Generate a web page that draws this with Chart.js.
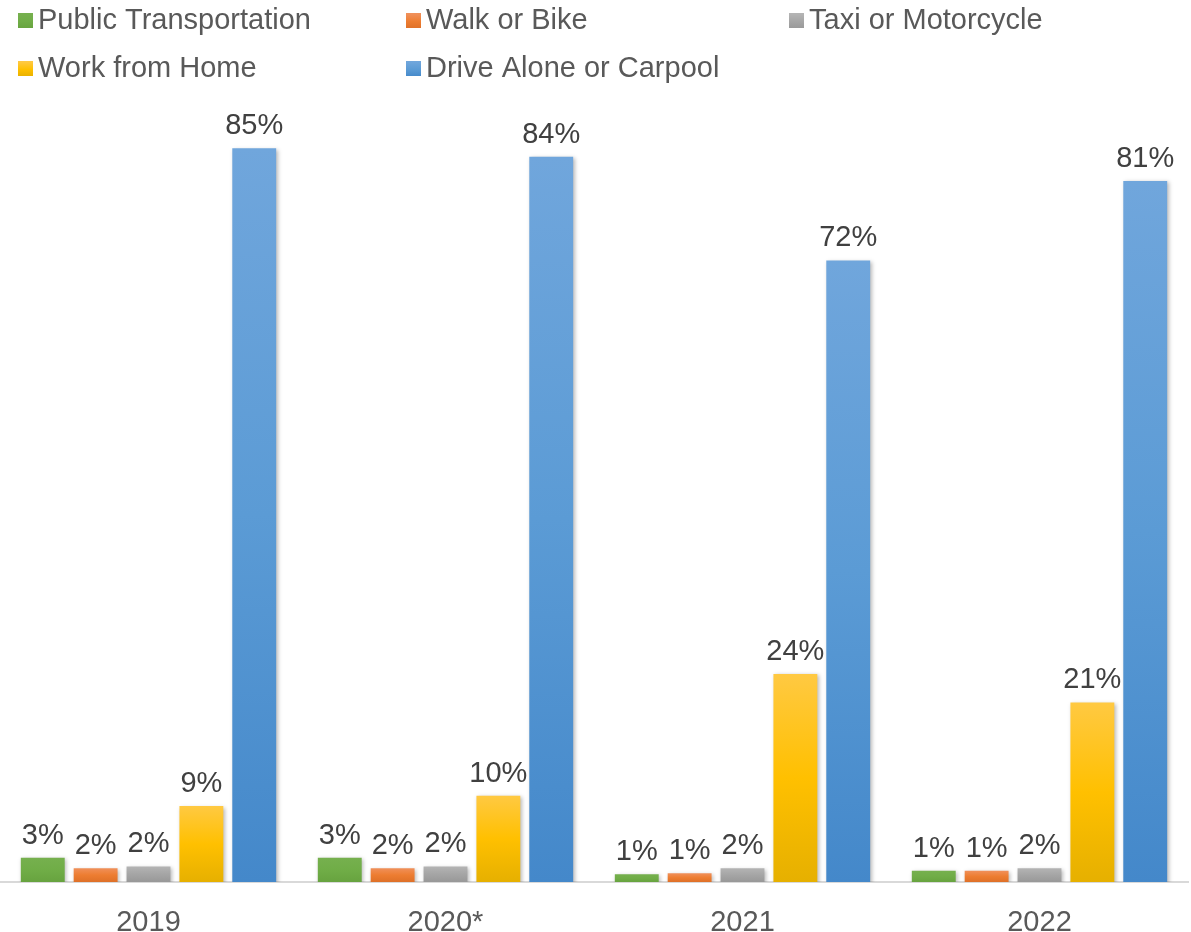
<!DOCTYPE html>
<html>
<head>
<meta charset="utf-8">
<script src="https://cdn.jsdelivr.net/npm/chart.js@4/dist/chart.umd.min.js"></script>
<style>
    html, body { margin: 0; padding: 0; background: #fff; }
    #wrap { width: 1191px; height: 932px; position: relative; }
</style>
</head>
<body>
<div id="wrap"><canvas id="modes"></canvas></div>
<script>
const years = ['2019', '2020*', '2021', '2022'];
const publicTransport = [2.8, 2.8, 0.9, 1.3];
const walkBike = [1.6, 1.6, 1.0, 1.3];
const taxiMoto = [1.8, 1.8, 1.6, 1.6];
const workHome = [8.8, 10.0, 24.1, 20.8];
const driveCarpool = [85, 84, 72, 81.2];

const FONT = "'Liberation Sans', Arial, sans-serif";
const FSIZE = 29;

// top colour, bottom colour of each bar (office style gradient)
function barFill(top, mid, bottom) {
    return function (c) {
        const chart = c.chart;
        const y = chart.scales && chart.scales.y;
        if (!y || c.parsed === undefined || !chart.chartArea) return mid;
        const y0 = y.getPixelForValue(0);
        const y1 = y.getPixelForValue(c.parsed.y);
        if (!isFinite(y0) || !isFinite(y1) || y0 === y1) return mid;
        const g = chart.ctx.createLinearGradient(0, y1, 0, y0);
        g.addColorStop(0, top);
        g.addColorStop(0.5, mid);
        g.addColorStop(1, bottom);
        return g;
    };
}

const series = [
    { label: 'Public Transportation', data: publicTransport, c: ['#76B04E', '#70AD47', '#67A33F'], col: 0, row: 0 },
    { label: 'Walk or Bike', data: walkBike, c: ['#F0905A', '#ED7D31', '#DE7028'], col: 1, row: 0 },
    { label: 'Taxi or Motorcycle', data: taxiMoto, c: ['#B4B4B4', '#A5A5A5', '#989898'], col: 2, row: 0 },
    { label: 'Work from Home', data: workHome, c: ['#FFC942', '#FFC000', '#E6B000'], col: 0, row: 1 },
    { label: 'Drive Alone or Carpool', data: driveCarpool, c: ['#70A6DC', '#5B9BD5', '#4488CA'], col: 1, row: 1 }
];

const legendCols = [18, 406, 789];
const legendRows = [29, 77];

const legendPlugin = {
    id: 'gridLegend',
    afterDraw(chart) {
        const ctx = chart.ctx;
        ctx.save();
        ctx.font = FSIZE + 'px ' + FONT;
        ctx.textBaseline = 'alphabetic';
        ctx.textAlign = 'left';
        series.forEach(function (s) {
            const x = legendCols[s.col];
            const base = legendRows[s.row];
            const g = ctx.createLinearGradient(0, base - 15, 0, base);
            g.addColorStop(0, s.c[0]);
            g.addColorStop(0.5, s.c[1]);
            g.addColorStop(1, s.c[2]);
            ctx.fillStyle = g;
            ctx.fillRect(x, base - 16, 15, 15);
            ctx.fillStyle = '#595959';
            ctx.fillText(s.label, x + 20, base);
        });
        ctx.restore();
    }
};

const shadowPlugin = {
    id: 'barShadow',
    beforeDatasetsDraw(chart) {
        const ctx = chart.ctx;
        ctx.save();
        ctx.shadowColor = 'rgba(0, 0, 0, 0.28)';
        ctx.shadowBlur = 4;
        ctx.shadowOffsetX = 1.5;
        ctx.shadowOffsetY = 1.5;
    },
    afterDatasetsDraw(chart) {
        chart.ctx.restore();
    }
};

const valueLabels = {
    id: 'valueLabels',
    afterDraw(chart) {
        const ctx = chart.ctx;
        ctx.save();
        ctx.font = FSIZE + 'px ' + FONT;
        ctx.fillStyle = '#404040';
        ctx.textAlign = 'center';
        ctx.textBaseline = 'alphabetic';
        chart.data.datasets.forEach(function (ds, i) {
            chart.getDatasetMeta(i).data.forEach(function (bar, j) {
                ctx.fillText(Math.round(ds.data[j]) + '%', bar.x, bar.y - 14);
            });
        });
        ctx.restore();
    }
};

new Chart(document.getElementById('modes').getContext('2d'), {
    type: 'bar',
    data: {
        labels: years,
        datasets: series.map(function (s) {
            return {
                label: s.label,
                data: s.data,
                backgroundColor: barFill(s.c[0], s.c[1], s.c[2]),
                borderWidth: 0,
                categoryPercentage: 0.89,
                barPercentage: 0.83
            };
        })
    },
    options: {
        responsive: true,
        maintainAspectRatio: false,
        animation: false,
        layout: { padding: { top: 105, right: 3, left: 0, bottom: 0 } },
        plugins: {
            legend: { display: false },
            tooltip: { enabled: false }
        },
        scales: {
            x: {
                grid: { display: false },
                border: { display: true, color: '#D9D9D9', width: 2 },
                ticks: { color: '#595959', font: { size: FSIZE, family: FONT }, padding: 16 },
                afterFit: function (scale) { scale.height = 50; }
            },
            y: {
                display: false,
                min: 0,
                max: 90
            }
        }
    },
    plugins: [shadowPlugin, valueLabels, legendPlugin]
});
</script>
</body>
</html>
